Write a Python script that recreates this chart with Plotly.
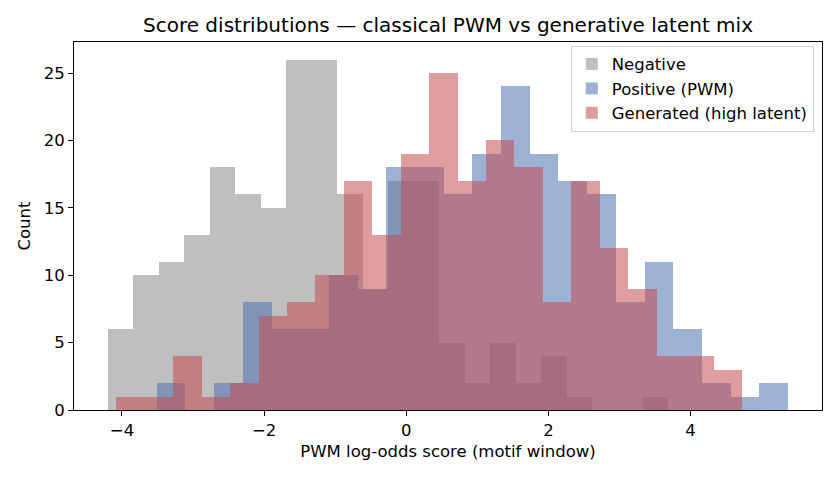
import numpy as np
import plotly.graph_objects as go

# ---- data (histogram counts, 22 bins each) ----
neg_range = (-4.197, 3.689)
neg_counts = [6, 10, 11, 13, 18, 16, 15, 26, 26, 16, 9, 17, 17, 5, 2, 5, 2, 4, 1, 0, 0, 1]

pos_range = (-3.511, 5.372)
pos_counts = [2, 0, 2, 8, 6, 6, 10, 9, 18, 18, 16, 19, 24, 19, 17, 16, 8, 11, 6, 2, 1, 2]

gen_range = (-4.079, 4.724)
gen_counts = [1, 1, 4, 1, 2, 7, 8, 10, 17, 13, 19, 25, 17, 20, 18, 8, 17, 12, 9, 4, 4, 3]

series_names = ["Negative", "Positive (PWM)", "Generated (high latent)"]
x_ticks = [-4, -2, 0, 2, 4]
y_ticks = [0, 5, 10, 15, 20, 25]


def bins(rng, counts):
    edges = np.linspace(rng[0], rng[1], len(counts) + 1)
    centers = (edges[:-1] + edges[1:]) / 2
    widths = np.diff(edges)
    return centers, widths


styles = [("#808080", 0.5), ("#4C72B0", 0.55), ("#C44E52", 0.55)]
fig = go.Figure()
for name, rng, counts, (col, op) in zip(
    series_names,
    [neg_range, pos_range, gen_range],
    [neg_counts, pos_counts, gen_counts],
    styles,
):
    c, w = bins(rng, counts)
    fig.add_trace(go.Bar(
        x=c, y=counts, width=w, name=name,
        marker=dict(color=col, line=dict(width=0)),
        opacity=op,
    ))

font = "DejaVu Sans, sans-serif"
fs = 16.5
fig.update_layout(
    width=840, height=480,
    margin=dict(l=74, r=18, t=42, b=70),
    barmode="overlay",
    bargap=0,
    plot_bgcolor="white",
    paper_bgcolor="white",
    font=dict(family=font, size=fs, color="black"),
    title=dict(
        text="Score distributions — classical PWM vs generative latent mix",
        x=0.5, xref="paper", xanchor="center",
        y=1 - 25 / 480, yref="container", yanchor="middle",
        font=dict(family=font, size=20, color="black"),
    ),
    legend=dict(
        x=0.989, xanchor="right", y=0.99, yanchor="top",
        bgcolor="rgba(255,255,255,0.8)",
        bordercolor="#d0d0d0", borderwidth=1,
        font=dict(family=font, size=fs),
        itemwidth=30,
    ),
    showlegend=True,
)
fig.update_xaxes(
    range=[-4.675, 5.85],
    tickvals=x_ticks,
    showgrid=False, zeroline=False,
    showline=True, linecolor="black", linewidth=1, mirror=True,
    ticks="outside", ticklen=5, tickcolor="black",
    tickfont=dict(size=fs),
    title=dict(text="PWM log-odds score (motif window)", standoff=6,
               font=dict(size=fs)),
)
fig.update_yaxes(
    range=[0, 27.3],
    tickvals=y_ticks,
    showgrid=False, zeroline=False,
    showline=True, linecolor="black", linewidth=1, mirror=True,
    ticks="outside", ticklen=5, tickcolor="black",
    tickfont=dict(size=fs),
    title=dict(text="Count", standoff=8, font=dict(size=fs)),
)

fig.write_html("out.html")
